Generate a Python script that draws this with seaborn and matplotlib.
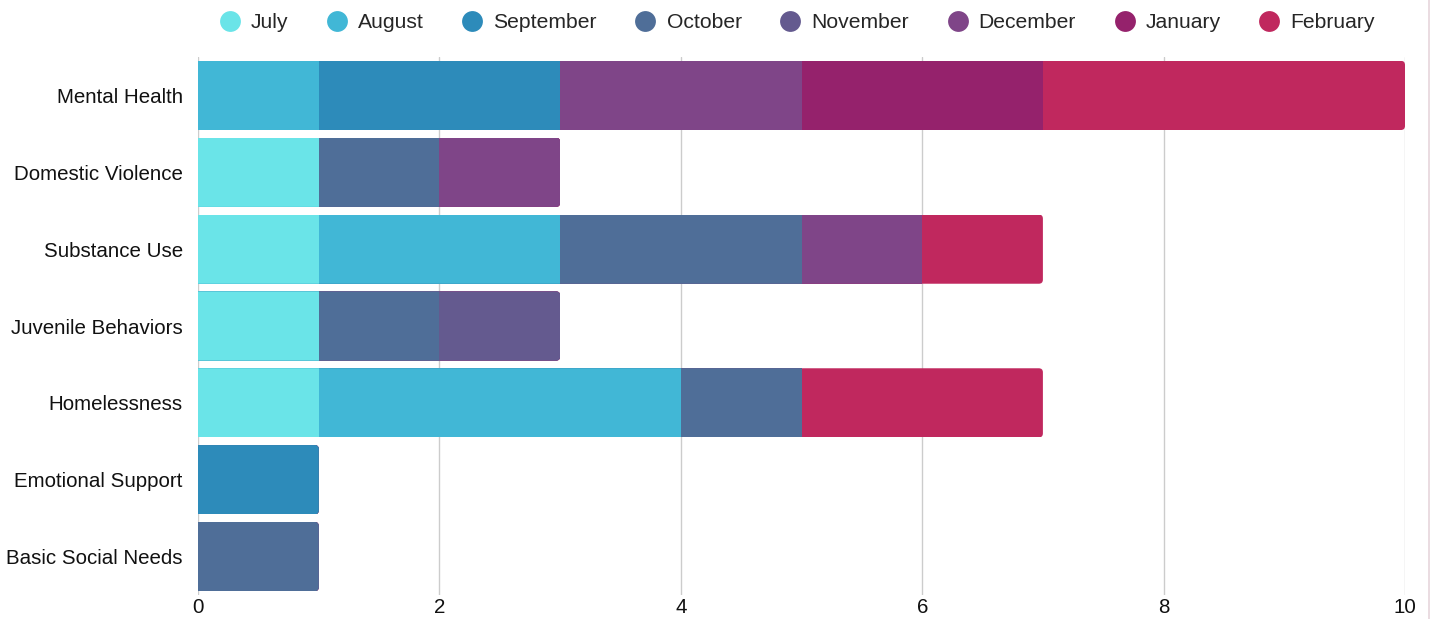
import numpy as np
import pandas as pd
import matplotlib
matplotlib.use("Agg")
import matplotlib.pyplot as plt
from matplotlib.patches import FancyBboxPatch
from matplotlib.lines import Line2D
import seaborn as sns

categories = ["Mental Health", "Domestic Violence", "Substance Use", "Juvenile Behaviors",
              "Homelessness", "Emotional Support", "Basic Social Needs"]
months = ["July", "August", "September", "October", "November", "December", "January", "February"]
july = [0, 1, 1, 1, 1, 0, 0]
august = [1, 0, 2, 0, 3, 0, 0]
september = [2, 0, 0, 0, 0, 1, 0]
october = [0, 1, 2, 1, 1, 0, 1]
november = [0, 0, 0, 1, 0, 0, 0]
december = [2, 1, 1, 0, 0, 0, 0]
january = [2, 0, 0, 0, 0, 0, 0]
february = [3, 0, 1, 0, 2, 0, 0]
colors = ["#6ae4e8", "#41b7d6", "#2d8bba", "#4f6e98", "#645a8f", "#7f4588", "#95226c", "#c0285e"]
x_ticks = [0, 2, 4, 6, 8, 10]

series = [july, august, september, october, november, december, january, february]
values = np.array(series)
cum = np.cumsum(values, axis=0)
totals = values.sum(axis=0)

sns.set_theme(style="white")
plt.rcParams["font.family"] = ["Liberation Sans", "DejaVu Sans"]

fig = plt.figure(figsize=(14.3, 6.19), dpi=100)
ax = fig.add_axes([198 / 1430, 1 - 595 / 619, (1405 - 198) / 1430, (595 - 57) / 619])

# draw from longest cumulative layer to shortest so each month sits on top
for i in range(len(months) - 1, -1, -1):
    df = pd.DataFrame({"category": categories, "value": cum[i]})
    sns.barplot(data=df, x="value", y="category", orient="h", color=colors[i],
                saturation=1, width=0.9, ax=ax, errorbar=None, linewidth=0,
                order=categories, zorder=3)

ax.set_xlim(0, 10)
ax.set_ylim(len(categories) - 0.5, -0.5)

# rounded right ends via clip paths
xr = 0.034
aspect = (1 / 77.0) / (1 / 120.7)
clips = []
for r, tot in enumerate(totals):
    clip = FancyBboxPatch((-1, r - 0.45), tot + 1, 0.9,
                          boxstyle=f"round,pad=0,rounding_size={xr}",
                          mutation_aspect=aspect, transform=ax.transData)
    clips.append(clip)
for p in ax.patches:
    row = int(round(p.get_y() + p.get_height() / 2))
    if 0 <= row < len(clips):
        p.set_clip_path(clips[row])

ax.set_xticks(x_ticks)
ax.set_xticklabels([str(t) for t in x_ticks])
ax.grid(axis="x", color="#cccccc", linewidth=1, zorder=0)
ax.grid(axis="y", visible=False)
for s in ax.spines.values():
    s.set_visible(False)
ax.set_xlabel("")
ax.set_ylabel("")
ax.tick_params(axis="y", length=0, pad=11, labelsize=14.8, labelcolor="#111111")
ax.tick_params(axis="x", length=0, pad=2, labelsize=14.8, labelcolor="#111111")

handles = [Line2D([0], [0], marker="o", linestyle="", markersize=15,
                  markerfacecolor=c, markeredgewidth=0) for c in colors]
fig.legend(handles, months, loc="center", bbox_to_anchor=(797 / 1430, 1 - 23 / 619),
           ncol=len(months), frameon=False, fontsize=15.2, handlelength=1.0,
           handletextpad=0.5, columnspacing=1.8, borderaxespad=0)

fig.add_artist(Line2D([1428.5 / 1430, 1428.5 / 1430], [0, 1], color="#e6d6dc", linewidth=1.2,
                      transform=fig.transFigure))

fig.savefig("out.png", dpi=100)
